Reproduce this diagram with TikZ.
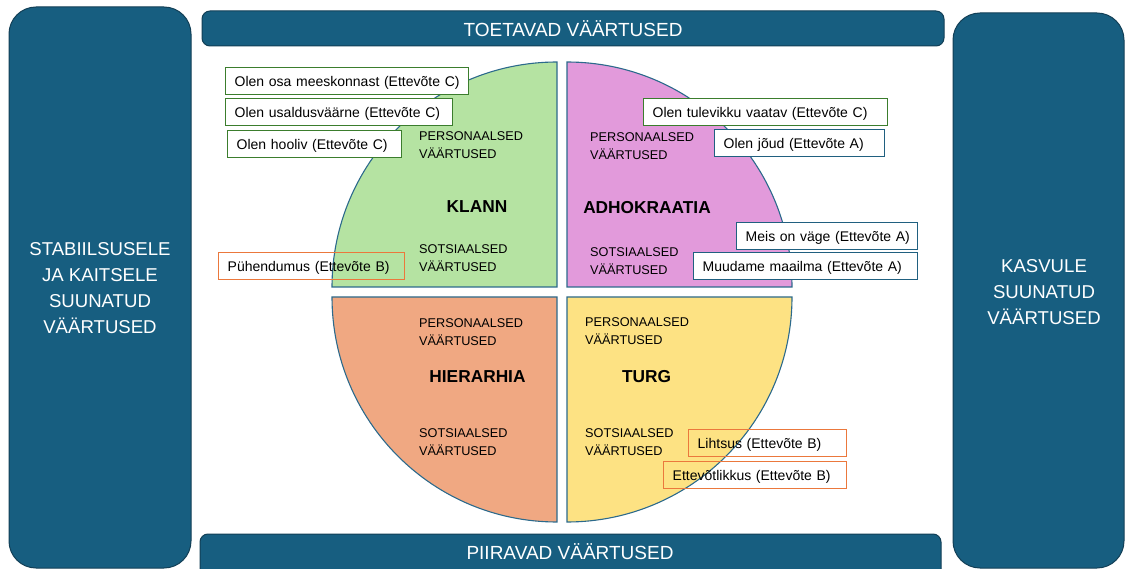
\documentclass[tikz,border=0pt]{standalone}
\usepackage{fontspec}
\setmainfont{Liberation Sans}
\definecolor{panelblue}{HTML}{175E80}
\definecolor{paneledge}{HTML}{123F56}
\definecolor{quadedge}{HTML}{2C6A8C}
\definecolor{klanncol}{HTML}{B5E3A2}
\definecolor{adhocol}{HTML}{E29ADB}
\definecolor{hiercol}{HTML}{F0A882}
\definecolor{turgcol}{HTML}{FDE283}
\definecolor{tagC}{HTML}{3B7D2D}
\definecolor{tagB}{HTML}{EB783C}
\definecolor{tagA}{HTML}{206080}
\tikzset{
  panel/.style={fill=panelblue, draw=paneledge, line width=1pt},
  paneltext/.style={text=white, align=center, font=\fontsize{18.6}{26}\selectfont},
  bartext/.style={text=white, font=\fontsize{19}{22}\selectfont},
  quad/.style={draw=quadedge, line width=1.1pt},
  qlabel/.style={anchor=base west, align=left, inner sep=0pt, font=\fontsize{12.7}{18}\selectfont},
  qname/.style={anchor=base, inner sep=0pt, font=\fontsize{17.3}{20}\bfseries\selectfont},
  tagbox/.style={rectangle, anchor=north west, line width=1.4pt, minimum height=27pt,
    inner xsep=9pt, inner ysep=0pt, text height=9.8pt, text depth=0pt, align=left,
    font=\fontsize{14}{16}\selectfont},
  tagc/.style={tagbox, draw=tagC, fill=white},
  taga/.style={tagbox, draw=tagA, fill=white},
  tagb/.style={tagbox, draw=tagB},
}
\begin{document}
\begin{tikzpicture}[x=1pt, y=-1pt]
\useasboundingbox (0,0) rectangle (1125,569);
\clip (0,0) rectangle (1125,569);

% side panels
\draw[panel, rounded corners=27pt] (9,7) rectangle (191,568);
\node[paneltext] (stab) at (100,288) {STABIILSUSELE\\JA KAITSELE\\SUUNATUD\\VÄÄRTUSED};
\draw[panel, rounded corners=27pt] (953,13) rectangle (1124,568);
\node[paneltext] (kasv) at (1044,292) {KASVULE\\SUUNATUD\\VÄÄRTUSED};

% top and bottom bars
\draw[panel, rounded corners=8pt] (202,11) rectangle (944,46);
\node[bartext] (toet) at (573,28.5) {TOETAVAD VÄÄRTUSED};
\draw[panel, rounded corners=8pt] (200,534) rectangle (941,600);
\node[bartext] (piir) at (570,552) {PIIRAVAD VÄÄRTUSED};

% four quadrants
\draw[quad, fill=klanncol] (557,287) -- (332,287) arc[start angle=180, end angle=90, radius=225pt] -- cycle;
\draw[quad, fill=adhocol] (567,287) -- (567,62) arc[start angle=90, end angle=0, radius=225pt] -- cycle;
\draw[quad, fill=hiercol] (557,297) -- (332,297) arc[start angle=180, end angle=270, radius=225pt] -- cycle;
\draw[quad, fill=turgcol] (567,297) -- (792,297) arc[start angle=0, end angle=-90, radius=225pt] -- cycle;

% quadrant labels (base anchor sits on the second line)
\node[qlabel] (kp) at (419,158.5) {PERSONAALSED\\VÄÄRTUSED};
\node[qlabel] (ks) at (419,271.8) {SOTSIAALSED\\VÄÄRTUSED};
\node[qname] (klann) at (477,213) {KLANN};
\node[qlabel] (ap) at (590,159.2) {PERSONAALSED\\VÄÄRTUSED};
\node[qlabel] (as) at (590,274.2) {SOTSIAALSED\\VÄÄRTUSED};
\node[qname] (adho) at (647,213.2) {ADHOKRAATIA};
\node[qlabel] (hp) at (419,345.2) {PERSONAALSED\\VÄÄRTUSED};
\node[qlabel] (hs) at (419,455.8) {SOTSIAALSED\\VÄÄRTUSED};
\node[qname] (hier) at (477.5,382.8) {HIERARHIA};
\node[qlabel] (tp) at (585,344.2) {PERSONAALSED\\VÄÄRTUSED};
\node[qlabel] (ts) at (585,455.8) {SOTSIAALSED\\VÄÄRTUSED};
\node[qname] (turg) at (646.5,382.8) {TURG};

% value tags
\node[tagc, text width=225pt] (c1) at (225,67) {\mbox{Olen osa meeskonnast (Ettevõte C)}};
\node[tagc, text width=209pt] (c2) at (225,98) {\mbox{Olen usaldusväärne (Ettevõte C)}};
\node[tagc, text width=156pt] (c3) at (227,130) {\mbox{Olen hooliv (Ettevõte C)}};
\node[tagb, text width=168pt] (b1) at (218,252) {\mbox{Pühendumus (Ettevõte B)}};
\node[tagc, text width=226pt] (c4) at (643,98) {\mbox{Olen tulevikku vaatav (Ettevõte C)}};
\node[taga, text width=152pt] (a1) at (714,129) {\mbox{Olen jõud (Ettevõte A)}};
\node[taga, text width=163pt] (a2) at (736,222) {\mbox{Meis on väge (Ettevõte A)}};
\node[taga, text width=206pt] (a3) at (693,252) {\mbox{Muudame maailma (Ettevõte A)}};
\node[tagb, text width=140pt] (b2) at (688,429) {\mbox{Lihtsus (Ettevõte B)}};
\node[tagb, text width=165pt] (b3) at (663,461) {\mbox{Ettevõtlikkus (Ettevõte B)}};
\end{tikzpicture}
\end{document}
